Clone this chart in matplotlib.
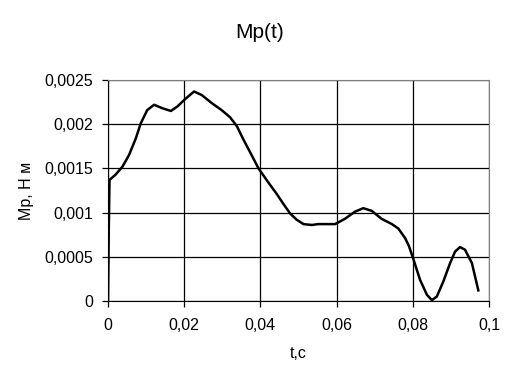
import matplotlib
matplotlib.use("Agg")
import matplotlib.pyplot as plt
from matplotlib.ticker import FuncFormatter

plt.rcParams["font.family"] = ["Liberation Sans", "DejaVu Sans"]

# time, s
t = [0.0, 0.0002, 0.0004, 0.0020, 0.0038, 0.0055, 0.0073, 0.0086, 0.0103,
     0.0121, 0.0143, 0.0165, 0.0182, 0.0204, 0.0226, 0.0246, 0.0272, 0.0298,
     0.0320, 0.0338, 0.0355, 0.0377, 0.0395, 0.0421, 0.0443, 0.0460, 0.0478,
     0.0495, 0.0513, 0.0535, 0.0552, 0.0596, 0.0622, 0.0648, 0.0670, 0.0692,
     0.0718, 0.0745, 0.0762, 0.0780, 0.0790, 0.0801, 0.0819, 0.0837, 0.0850,
     0.0863, 0.0880, 0.0898, 0.0911, 0.0924, 0.0937, 0.0955, 0.0972]
# torque Mp, N*m
mp = [0.0, 0.0008, 0.00137, 0.00143, 0.00152, 0.00165, 0.00184, 0.00201,
      0.00216, 0.00222, 0.00218, 0.00215, 0.0022, 0.00229, 0.00237, 0.00233,
      0.00224, 0.00216, 0.00208, 0.00198, 0.00183, 0.00165, 0.0015, 0.00134,
      0.00121, 0.00110, 0.00099, 0.00092, 0.00087, 0.00086, 0.00087, 0.00087,
      0.00093, 0.00101, 0.00105, 0.00102, 0.00093, 0.00087, 0.00082, 0.00071,
      0.00062, 0.00048, 0.00024, 0.00007, 0.00001, 0.00005, 0.00022, 0.00043,
      0.00056, 0.00061, 0.00058, 0.00043, 0.00012]

x_ticks = [0, 0.02, 0.04, 0.06, 0.08, 0.1]
y_ticks = [0, 0.0005, 0.001, 0.0015, 0.002, 0.0025]


def comma(v, pos):
    s = f"{v:.4f}".rstrip("0").rstrip(".")
    return s.replace(".", ",")


fig = plt.figure(figsize=(5.21, 3.79), dpi=100)
ax = fig.add_axes([0.2073, 0.2058, 0.7313, 0.5831])

ax.plot(t, mp, color="black", linewidth=1.8, solid_joinstyle="round")

ax.set_xlim(0, 0.1)
ax.set_ylim(0, 0.0025)
ax.set_xticks(x_ticks)
ax.set_yticks(y_ticks)
ax.xaxis.set_major_formatter(FuncFormatter(comma))
ax.yaxis.set_major_formatter(FuncFormatter(comma))
ax.grid(True, color="black", linewidth=0.9)
ax.tick_params(direction="out", length=4.5, width=0.9, labelsize=11.5, pad=6)
ax.tick_params(axis="x", pad=8)

for side in ["top", "right"]:
    ax.spines[side].set_color("#808080")
for side in ["left", "bottom"]:
    ax.spines[side].set_color("black")

fig.text(0.499, 0.9, "Mp(t)", ha="center", va="baseline", fontsize=15)
ax.set_xlabel("t,с", fontsize=11.5, labelpad=9)
ax.set_ylabel("Mp, Н м", fontsize=11.5, labelpad=8)

fig.savefig("out.png", dpi=100)
